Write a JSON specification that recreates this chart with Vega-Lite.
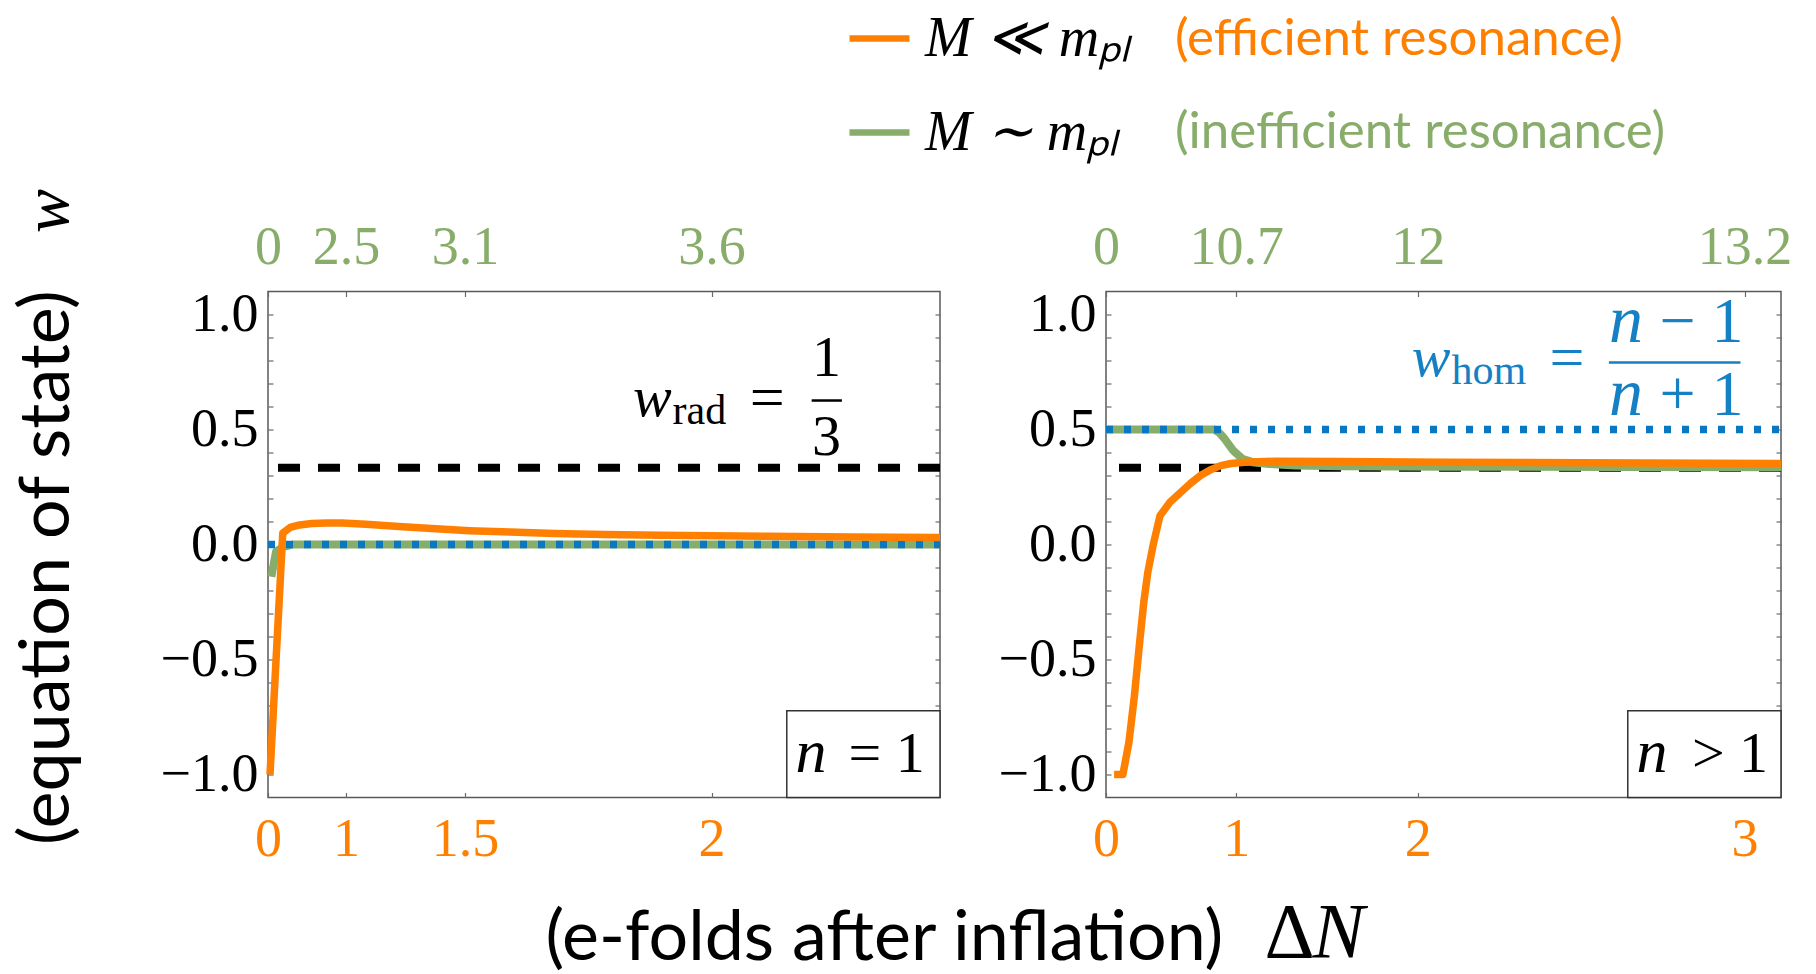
{
"$schema": "https://vega.github.io/schema/vega-lite/v6.json",
"padding": {"left": 11, "top": 4.5, "right": 10, "bottom": 0},
"bounds": "flush",
"spacing": 166,
"config": {
  "view": {"stroke": "#5a5a5a", "strokeWidth": 1.5},
  "axis": {"domain": false, "grid": false, "ticks": true, "tickSize": -5, "tickColor": "#6a6a6a", "tickWidth": 1.2, "labelFont": "Liberation Serif", "labelFontSize": 54, "labelColor": "black", "labelFlush": false, "labelOverlap": false},
  "legend": {"labelLimit": 0, "padding": 0}
},
"datasets": {
  "left": [
    {"model": "M ≪ mₚₗ", "resonance": "(efficient resonance)", "u": 0.3, "w": -1.0},
    {"model": "M ≪ mₚₗ", "resonance": "(efficient resonance)", "u": 1.2, "w": -0.5},
    {"model": "M ≪ mₚₗ", "resonance": "(efficient resonance)", "u": 2.2, "w": 0.05},
    {"model": "M ≪ mₚₗ", "resonance": "(efficient resonance)", "u": 3.3, "w": 0.074},
    {"model": "M ≪ mₚₗ", "resonance": "(efficient resonance)", "u": 4.7, "w": 0.085},
    {"model": "M ≪ mₚₗ", "resonance": "(efficient resonance)", "u": 6.5, "w": 0.091},
    {"model": "M ≪ mₚₗ", "resonance": "(efficient resonance)", "u": 8.7, "w": 0.094},
    {"model": "M ≪ mₚₗ", "resonance": "(efficient resonance)", "u": 11.0, "w": 0.093},
    {"model": "M ≪ mₚₗ", "resonance": "(efficient resonance)", "u": 14.6, "w": 0.088},
    {"model": "M ≪ mₚₗ", "resonance": "(efficient resonance)", "u": 20.0, "w": 0.077},
    {"model": "M ≪ mₚₗ", "resonance": "(efficient resonance)", "u": 25.0, "w": 0.068},
    {"model": "M ≪ mₚₗ", "resonance": "(efficient resonance)", "u": 30.0, "w": 0.06},
    {"model": "M ≪ mₚₗ", "resonance": "(efficient resonance)", "u": 36.0, "w": 0.054},
    {"model": "M ≪ mₚₗ", "resonance": "(efficient resonance)", "u": 42.7, "w": 0.048},
    {"model": "M ≪ mₚₗ", "resonance": "(efficient resonance)", "u": 50.0, "w": 0.044},
    {"model": "M ≪ mₚₗ", "resonance": "(efficient resonance)", "u": 58.4, "w": 0.04},
    {"model": "M ≪ mₚₗ", "resonance": "(efficient resonance)", "u": 66.0, "w": 0.038},
    {"model": "M ≪ mₚₗ", "resonance": "(efficient resonance)", "u": 74.2, "w": 0.036},
    {"model": "M ≪ mₚₗ", "resonance": "(efficient resonance)", "u": 87.0, "w": 0.033},
    {"model": "M ≪ mₚₗ", "resonance": "(efficient resonance)", "u": 100.0, "w": 0.03},
    {"model": "M ∼ mₚₗ", "resonance": "(inefficient resonance)", "u": 0.5, "w": -0.14},
    {"model": "M ∼ mₚₗ", "resonance": "(inefficient resonance)", "u": 1.2, "w": -0.03},
    {"model": "M ∼ mₚₗ", "resonance": "(inefficient resonance)", "u": 2.2, "w": -0.012},
    {"model": "M ∼ mₚₗ", "resonance": "(inefficient resonance)", "u": 3.7, "w": 0.0},
    {"model": "M ∼ mₚₗ", "resonance": "(inefficient resonance)", "u": 100.0, "w": 0.0}
  ],
  "right": [
    {"model": "M ≪ mₚₗ", "resonance": "(efficient resonance)", "u": 1.2, "w": -1.0},
    {"model": "M ≪ mₚₗ", "resonance": "(efficient resonance)", "u": 2.5, "w": -1.0},
    {"model": "M ≪ mₚₗ", "resonance": "(efficient resonance)", "u": 3.4, "w": -0.86},
    {"model": "M ≪ mₚₗ", "resonance": "(efficient resonance)", "u": 4.2, "w": -0.66},
    {"model": "M ≪ mₚₗ", "resonance": "(efficient resonance)", "u": 5.0, "w": -0.42},
    {"model": "M ≪ mₚₗ", "resonance": "(efficient resonance)", "u": 5.6, "w": -0.25},
    {"model": "M ≪ mₚₗ", "resonance": "(efficient resonance)", "u": 6.2, "w": -0.12},
    {"model": "M ≪ mₚₗ", "resonance": "(efficient resonance)", "u": 7.0, "w": 0.0},
    {"model": "M ≪ mₚₗ", "resonance": "(efficient resonance)", "u": 8.0, "w": 0.125},
    {"model": "M ≪ mₚₗ", "resonance": "(efficient resonance)", "u": 9.5, "w": 0.185},
    {"model": "M ≪ mₚₗ", "resonance": "(efficient resonance)", "u": 11.0, "w": 0.225},
    {"model": "M ≪ mₚₗ", "resonance": "(efficient resonance)", "u": 12.5, "w": 0.265},
    {"model": "M ≪ mₚₗ", "resonance": "(efficient resonance)", "u": 14.0, "w": 0.3},
    {"model": "M ≪ mₚₗ", "resonance": "(efficient resonance)", "u": 15.5, "w": 0.325},
    {"model": "M ≪ mₚₗ", "resonance": "(efficient resonance)", "u": 17.0, "w": 0.343},
    {"model": "M ≪ mₚₗ", "resonance": "(efficient resonance)", "u": 18.5, "w": 0.352},
    {"model": "M ≪ mₚₗ", "resonance": "(efficient resonance)", "u": 20.5, "w": 0.358},
    {"model": "M ≪ mₚₗ", "resonance": "(efficient resonance)", "u": 25.0, "w": 0.362},
    {"model": "M ≪ mₚₗ", "resonance": "(efficient resonance)", "u": 35.0, "w": 0.361},
    {"model": "M ≪ mₚₗ", "resonance": "(efficient resonance)", "u": 50.0, "w": 0.358},
    {"model": "M ≪ mₚₗ", "resonance": "(efficient resonance)", "u": 70.0, "w": 0.355},
    {"model": "M ≪ mₚₗ", "resonance": "(efficient resonance)", "u": 100.0, "w": 0.352},
    {"model": "M ∼ mₚₗ", "resonance": "(inefficient resonance)", "u": 0.0, "w": 0.5},
    {"model": "M ∼ mₚₗ", "resonance": "(inefficient resonance)", "u": 16.0, "w": 0.5},
    {"model": "M ∼ mₚₗ", "resonance": "(inefficient resonance)", "u": 16.8, "w": 0.485},
    {"model": "M ∼ mₚₗ", "resonance": "(inefficient resonance)", "u": 17.5, "w": 0.462},
    {"model": "M ∼ mₚₗ", "resonance": "(inefficient resonance)", "u": 18.8, "w": 0.41},
    {"model": "M ∼ mₚₗ", "resonance": "(inefficient resonance)", "u": 20.2, "w": 0.373},
    {"model": "M ∼ mₚₗ", "resonance": "(inefficient resonance)", "u": 21.7, "w": 0.358},
    {"model": "M ∼ mₚₗ", "resonance": "(inefficient resonance)", "u": 24.2, "w": 0.35},
    {"model": "M ∼ mₚₗ", "resonance": "(inefficient resonance)", "u": 28.0, "w": 0.343},
    {"model": "M ∼ mₚₗ", "resonance": "(inefficient resonance)", "u": 35.0, "w": 0.34},
    {"model": "M ∼ mₚₗ", "resonance": "(inefficient resonance)", "u": 50.0, "w": 0.338},
    {"model": "M ∼ mₚₗ", "resonance": "(inefficient resonance)", "u": 75.0, "w": 0.337},
    {"model": "M ∼ mₚₗ", "resonance": "(inefficient resonance)", "u": 100.0, "w": 0.336}
  ]
},
"hconcat": [
  {
    "width": 672, "height": 506,
    "resolve": {"axis": {"x": "independent", "y": "independent"}},
    "layer": [
      {"data": {"values": [{}]}, "mark": {"type": "rule", "color": "black", "strokeWidth": 8, "strokeDash": [22, 18]},
       "encoding": {"y": {"datum": 0.3333, "type": "quantitative", "scale": {"domain": [-1.1, 1.1], "nice": false, "zero": false}, "axis": null}}},
      {"data": {"name": "left"}, "transform": [{"filter": "datum.resonance === '(inefficient resonance)'"}],
       "mark": {"type": "line", "strokeWidth": 8, "strokeCap": "butt", "strokeJoin": "round"},
       "encoding": {
         "x": {"field": "u", "type": "quantitative", "scale": {"domain": [0, 100], "nice": false, "zero": false}, "axis": null},
         "y": {"field": "w", "type": "quantitative", "scale": {"domain": [-1.1, 1.1], "nice": false, "zero": false}, "axis": null},
         "color": {"field": "model", "type": "nominal", "scale": {"domain": ["M ≪ mₚₗ", "M ∼ mₚₗ"], "range": ["#ff8000", "#88ad6b"]},
           "legend": {"orient": "none", "legendX": 578, "legendY": -286.5, "title": null, "symbolType": "stroke", "symbolSize": 3600, "symbolStrokeWidth": 6.5, "labelFont": "Liberation Serif", "labelFontStyle": "italic", "labelFontSize": 56, "labelColor": "black", "labelOffset": 12, "rowPadding": 32, "padding": 0}},
         "opacity": {"field": "resonance", "type": "nominal", "scale": {"domain": ["(efficient resonance)", "(inefficient resonance)"], "range": [1, 1]},
           "legend": {"orient": "none", "legendX": 856, "legendY": -277, "title": null, "symbolSize": 0, "symbolOpacity": 0, "symbolStrokeWidth": 0, "labelFont": "Lato", "labelFontSize": 51, "labelColor": {"expr": "datum.label === '(efficient resonance)' ? '#ff8000' : '#88ad6b'"}, "labelOffset": 0, "rowPadding": 41, "padding": 0}}
       }},
      {"data": {"values": [{}]}, "mark": {"type": "rule", "color": "#0a78c0", "strokeWidth": 7.5, "strokeDash": [7, 11]},
       "encoding": {
         "x": {"datum": 0, "type": "quantitative", "scale": {"domain": [0, 100], "nice": false, "zero": false},
           "axis": {"orient": "top", "values": [0, 11.6, 29.3, 66.0], "labelExpr": "datum.value < 5 ? '0' : datum.value < 20 ? '2.5' : datum.value < 40 ? '3.1' : '3.6'", "labelColor": "#88ad6b", "labelPadding": 22, "title": null}},
         "x2": {"datum": 100},
         "y": {"datum": 0, "type": "quantitative", "scale": {"domain": [-1.1, 1.1], "nice": false, "zero": false},
           "axis": {"orient": "right", "values": [-1, -0.9, -0.8, -0.7, -0.6, -0.5, -0.4, -0.3, -0.2, -0.1, 0, 0.1, 0.2, 0.3, 0.4, 0.5, 0.6, 0.7, 0.8, 0.9, 1], "labels": false,
             "title": "w", "titleFont": "Liberation Serif", "titleFontStyle": "italic", "titleFontWeight": "normal", "titleFontSize": 66, "titleColor": "black", "titleAngle": 270, "titleAlign": "left", "titleBaseline": "middle", "titleX": -893, "titleY": -59}}
       }},
      {"data": {"name": "left"}, "transform": [{"filter": "datum.resonance === '(efficient resonance)'"}],
       "mark": {"type": "line", "strokeWidth": 7.5, "strokeCap": "butt", "strokeJoin": "round"},
       "encoding": {
         "x": {"field": "u", "type": "quantitative", "scale": {"domain": [0, 100], "nice": false, "zero": false},
           "axis": {"orient": "bottom", "values": [0, 11.6, 29.3, 66.0], "labelExpr": "datum.value < 5 ? '0' : datum.value < 20 ? '1' : datum.value < 40 ? '1.5' : '2'", "labelColor": "#ff8000", "labelPadding": 20,
             "title": "(e-folds after inflation)", "titleFont": "Lato", "titleFontSize": 70, "titleFontWeight": "normal", "titleColor": "black", "titleX": 277, "titleY": 162, "titleAlign": "left", "titleBaseline": "alphabetic"}},
         "y": {"field": "w", "type": "quantitative", "scale": {"domain": [-1.1, 1.1], "nice": false, "zero": false},
           "axis": {"orient": "left", "values": [-1, -0.9, -0.8, -0.7, -0.6, -0.5, -0.4, -0.3, -0.2, -0.1, 0, 0.1, 0.2, 0.3, 0.4, 0.5, 0.6, 0.7, 0.8, 0.9, 1], "format": ".1f", "labelExpr": "abs(datum.value * 2 - round(datum.value * 2)) < 0.001 ? datum.label : ''", "labelPadding": 15,
             "title": "(equation of state)", "titleFont": "Lato", "titleFontSize": 70, "titleFontWeight": "normal", "titleColor": "black", "titleAngle": 270, "titleAlign": "left", "titleBaseline": "middle", "titleX": -221, "titleY": 553}},
         "color": {"field": "model", "type": "nominal", "scale": {"domain": ["M ≪ mₚₗ", "M ∼ mₚₗ"], "range": ["#ff8000", "#88ad6b"]},
           "legend": {"orient": "none", "legendX": 578, "legendY": -286.5, "title": null, "symbolType": "stroke", "symbolSize": 3600, "symbolStrokeWidth": 6.5, "labelFont": "Liberation Serif", "labelFontStyle": "italic", "labelFontSize": 56, "labelColor": "black", "labelOffset": 12, "rowPadding": 32, "padding": 0}},
         "opacity": {"field": "resonance", "type": "nominal", "scale": {"domain": ["(efficient resonance)", "(inefficient resonance)"], "range": [1, 1]},
           "legend": {"orient": "none", "legendX": 856, "legendY": -277, "title": null, "symbolSize": 0, "symbolOpacity": 0, "symbolStrokeWidth": 0, "labelFont": "Lato", "labelFontSize": 51, "labelColor": {"expr": "datum.label === '(efficient resonance)' ? '#ff8000' : '#88ad6b'"}, "labelOffset": 0, "rowPadding": 41, "padding": 0}}
       }},
      {"data": {"values": [{}]}, "mark": {"type": "text", "font": "Liberation Serif", "fontStyle": "italic", "fontSize": 58, "align": "left", "baseline": "alphabetic", "color": "black"},
       "encoding": {"x": {"datum": 54.3, "type": "quantitative", "axis": null}, "y": {"datum": 0.558, "type": "quantitative", "axis": null}, "text": {"value": "w"}}},
      {"data": {"values": [{}]}, "mark": {"type": "text", "font": "Liberation Serif", "fontSize": 42, "align": "left", "baseline": "alphabetic", "color": "black"},
       "encoding": {"x": {"datum": 60.2, "type": "quantitative", "axis": null}, "y": {"datum": 0.522, "type": "quantitative", "axis": null}, "text": {"value": "rad"}}},
      {"data": {"values": [{}]}, "mark": {"type": "text", "font": "Liberation Serif", "fontSize": 62, "align": "center", "baseline": "alphabetic", "color": "black"},
       "encoding": {"x": {"datum": 74.3, "type": "quantitative", "axis": null}, "y": {"datum": 0.55, "type": "quantitative", "axis": null}, "text": {"value": "="}}},
      {"data": {"values": [{}]}, "mark": {"type": "text", "font": "Liberation Serif", "fontSize": 58, "align": "center", "baseline": "alphabetic", "color": "black"},
       "encoding": {"x": {"datum": 83.1, "type": "quantitative", "axis": null}, "y": {"datum": 0.732, "type": "quantitative", "axis": null}, "text": {"value": "1"}}},
      {"data": {"values": [{}]}, "mark": {"type": "rule", "color": "black", "strokeWidth": 2.5},
       "encoding": {"x": {"datum": 80.9, "type": "quantitative", "axis": null}, "x2": {"datum": 85.4}, "y": {"datum": 0.626, "type": "quantitative", "axis": null}}},
      {"data": {"values": [{}]}, "mark": {"type": "text", "font": "Liberation Serif", "fontSize": 58, "align": "center", "baseline": "alphabetic", "color": "black"},
       "encoding": {"x": {"datum": 83.1, "type": "quantitative", "axis": null}, "y": {"datum": 0.391, "type": "quantitative", "axis": null}, "text": {"value": "3"}}},
      {"data": {"values": [{}]}, "mark": {"type": "rect", "fill": "white", "stroke": "#333333", "strokeWidth": 1.5},
       "encoding": {"x": {"datum": 77.2, "type": "quantitative", "axis": null}, "x2": {"datum": 100}, "y": {"datum": -0.723, "type": "quantitative", "axis": null}, "y2": {"datum": -1.1}}},
      {"data": {"values": [{}]}, "mark": {"type": "text", "font": "Liberation Serif", "fontStyle": "italic", "fontSize": 62, "align": "left", "baseline": "alphabetic", "color": "black"},
       "encoding": {"x": {"datum": 78.5, "type": "quantitative", "axis": null}, "y": {"datum": -0.991, "type": "quantitative", "axis": null}, "text": {"value": "n"}}},
      {"data": {"values": [{}]}, "mark": {"type": "text", "font": "Liberation Serif", "fontSize": 58, "align": "left", "baseline": "alphabetic", "color": "black"},
       "encoding": {"x": {"datum": 86.4, "type": "quantitative", "axis": null}, "y": {"datum": -0.991, "type": "quantitative", "axis": null}, "text": {"value": "= 1"}}}
    ]
  },
  {
    "width": 675, "height": 506,
    "resolve": {"axis": {"x": "independent", "y": "independent"}},
    "layer": [
      {"data": {"values": [{}]}, "mark": {"type": "rule", "color": "black", "strokeWidth": 8, "strokeDash": [22, 18]},
       "encoding": {"y": {"datum": 0.3333, "type": "quantitative", "scale": {"domain": [-1.1, 1.1], "nice": false, "zero": false}, "axis": null}}},
      {"data": {"name": "right"}, "transform": [{"filter": "datum.resonance === '(inefficient resonance)'"}],
       "mark": {"type": "line", "strokeWidth": 8, "strokeCap": "butt", "strokeJoin": "round"},
       "encoding": {
         "x": {"field": "u", "type": "quantitative", "scale": {"domain": [0, 100], "nice": false, "zero": false}, "axis": null},
         "y": {"field": "w", "type": "quantitative", "scale": {"domain": [-1.1, 1.1], "nice": false, "zero": false}, "axis": null},
         "color": {"field": "model", "type": "nominal", "scale": {"domain": ["M ≪ mₚₗ", "M ∼ mₚₗ"], "range": ["#ff8000", "#88ad6b"]},
           "legend": {"orient": "none", "legendX": 578, "legendY": -286.5, "title": null, "symbolType": "stroke", "symbolSize": 3600, "symbolStrokeWidth": 6.5, "labelFont": "Liberation Serif", "labelFontStyle": "italic", "labelFontSize": 56, "labelColor": "black", "labelOffset": 12, "rowPadding": 32, "padding": 0}},
         "opacity": {"field": "resonance", "type": "nominal", "scale": {"domain": ["(efficient resonance)", "(inefficient resonance)"], "range": [1, 1]},
           "legend": {"orient": "none", "legendX": 856, "legendY": -277, "title": null, "symbolSize": 0, "symbolOpacity": 0, "symbolStrokeWidth": 0, "labelFont": "Lato", "labelFontSize": 51, "labelColor": {"expr": "datum.label === '(efficient resonance)' ? '#ff8000' : '#88ad6b'"}, "labelOffset": 0, "rowPadding": 41, "padding": 0}}
       }},
      {"data": {"values": [{}]}, "mark": {"type": "rule", "color": "#0a78c0", "strokeWidth": 7.5, "strokeDash": [7, 11]},
       "encoding": {
         "x": {"datum": 0, "type": "quantitative", "scale": {"domain": [0, 100], "nice": false, "zero": false},
           "axis": {"orient": "top", "values": [0, 19.3, 46.2, 94.6], "labelExpr": "datum.value < 5 ? '0' : datum.value < 30 ? '10.7' : datum.value < 60 ? '12' : '13.2'", "labelColor": "#88ad6b", "labelPadding": 22,
             "title": "N", "titleFont": "Liberation Serif", "titleFontStyle": "italic", "titleFontWeight": "normal", "titleFontSize": 78, "titleColor": "black", "titleX": 206, "titleY": 665, "titleAlign": "left", "titleBaseline": "alphabetic"}},
         "x2": {"datum": 100},
         "y": {"datum": 0.5, "type": "quantitative", "scale": {"domain": [-1.1, 1.1], "nice": false, "zero": false},
           "axis": {"orient": "right", "values": [-1, -0.9, -0.8, -0.7, -0.6, -0.5, -0.4, -0.3, -0.2, -0.1, 0, 0.1, 0.2, 0.3, 0.4, 0.5, 0.6, 0.7, 0.8, 0.9, 1], "labels": false, "title": null}}
       }},
      {"data": {"name": "right"}, "transform": [{"filter": "datum.resonance === '(efficient resonance)'"}],
       "mark": {"type": "line", "strokeWidth": 7.5, "strokeCap": "butt", "strokeJoin": "round"},
       "encoding": {
         "x": {"field": "u", "type": "quantitative", "scale": {"domain": [0, 100], "nice": false, "zero": false},
           "axis": {"orient": "bottom", "values": [0, 19.3, 46.2, 94.6], "labelExpr": "datum.value < 5 ? '0' : datum.value < 30 ? '1' : datum.value < 60 ? '2' : '3'", "labelColor": "#ff8000", "labelPadding": 20,
             "title": "Δ", "titleFont": "Liberation Serif", "titleFontWeight": "normal", "titleFontSize": 78, "titleColor": "black", "titleX": 158, "titleY": 159, "titleAlign": "left", "titleBaseline": "alphabetic"}},
         "y": {"field": "w", "type": "quantitative", "scale": {"domain": [-1.1, 1.1], "nice": false, "zero": false},
           "axis": {"orient": "left", "values": [-1, -0.9, -0.8, -0.7, -0.6, -0.5, -0.4, -0.3, -0.2, -0.1, 0, 0.1, 0.2, 0.3, 0.4, 0.5, 0.6, 0.7, 0.8, 0.9, 1], "format": ".1f", "labelExpr": "abs(datum.value * 2 - round(datum.value * 2)) < 0.001 ? datum.label : ''", "labelPadding": 15, "title": null}},
         "color": {"field": "model", "type": "nominal", "scale": {"domain": ["M ≪ mₚₗ", "M ∼ mₚₗ"], "range": ["#ff8000", "#88ad6b"]},
           "legend": {"orient": "none", "legendX": 578, "legendY": -286.5, "title": null, "symbolType": "stroke", "symbolSize": 3600, "symbolStrokeWidth": 6.5, "labelFont": "Liberation Serif", "labelFontStyle": "italic", "labelFontSize": 56, "labelColor": "black", "labelOffset": 12, "rowPadding": 32, "padding": 0}},
         "opacity": {"field": "resonance", "type": "nominal", "scale": {"domain": ["(efficient resonance)", "(inefficient resonance)"], "range": [1, 1]},
           "legend": {"orient": "none", "legendX": 856, "legendY": -277, "title": null, "symbolSize": 0, "symbolOpacity": 0, "symbolStrokeWidth": 0, "labelFont": "Lato", "labelFontSize": 51, "labelColor": {"expr": "datum.label === '(efficient resonance)' ? '#ff8000' : '#88ad6b'"}, "labelOffset": 0, "rowPadding": 41, "padding": 0}}
       }},
      {"data": {"values": [{}]}, "mark": {"type": "text", "font": "Liberation Serif", "fontStyle": "italic", "fontSize": 58, "align": "left", "baseline": "alphabetic", "color": "#1580c3"},
       "encoding": {"x": {"datum": 45.3, "type": "quantitative", "axis": null}, "y": {"datum": 0.733, "type": "quantitative", "axis": null}, "text": {"value": "w"}}},
      {"data": {"values": [{}]}, "mark": {"type": "text", "font": "Liberation Serif", "fontSize": 42, "align": "left", "baseline": "alphabetic", "color": "#1580c3"},
       "encoding": {"x": {"datum": 51.2, "type": "quantitative", "axis": null}, "y": {"datum": 0.697, "type": "quantitative", "axis": null}, "text": {"value": "hom"}}},
      {"data": {"values": [{}]}, "mark": {"type": "text", "font": "Liberation Serif", "fontSize": 62, "align": "center", "baseline": "alphabetic", "color": "#1580c3"},
       "encoding": {"x": {"datum": 68.3, "type": "quantitative", "axis": null}, "y": {"datum": 0.725, "type": "quantitative", "axis": null}, "text": {"value": "="}}},
      {"data": {"values": [{}]}, "mark": {"type": "rule", "color": "#1580c3", "strokeWidth": 2.5},
       "encoding": {"x": {"datum": 74.5, "type": "quantitative", "axis": null}, "x2": {"datum": 94.0}, "y": {"datum": 0.791, "type": "quantitative", "axis": null}}},
      {"data": {"values": [{}]}, "mark": {"type": "text", "font": "Liberation Serif", "fontStyle": "italic", "fontSize": 68, "align": "left", "baseline": "alphabetic", "color": "#1580c3"},
       "encoding": {"x": {"datum": 74.5, "type": "quantitative", "axis": null}, "y": {"datum": 0.88, "type": "quantitative", "axis": null}, "text": {"value": "n"}}},
      {"data": {"values": [{}]}, "mark": {"type": "text", "font": "Liberation Serif", "fontSize": 64, "align": "left", "baseline": "alphabetic", "color": "#1580c3"},
       "encoding": {"x": {"datum": 82.0, "type": "quantitative", "axis": null}, "y": {"datum": 0.88, "type": "quantitative", "axis": null}, "text": {"value": "− 1"}}},
      {"data": {"values": [{}]}, "mark": {"type": "text", "font": "Liberation Serif", "fontStyle": "italic", "fontSize": 68, "align": "left", "baseline": "alphabetic", "color": "#1580c3"},
       "encoding": {"x": {"datum": 74.5, "type": "quantitative", "axis": null}, "y": {"datum": 0.565, "type": "quantitative", "axis": null}, "text": {"value": "n"}}},
      {"data": {"values": [{}]}, "mark": {"type": "text", "font": "Liberation Serif", "fontSize": 64, "align": "left", "baseline": "alphabetic", "color": "#1580c3"},
       "encoding": {"x": {"datum": 82.0, "type": "quantitative", "axis": null}, "y": {"datum": 0.565, "type": "quantitative", "axis": null}, "text": {"value": "+ 1"}}},
      {"data": {"values": [{}]}, "mark": {"type": "rect", "fill": "white", "stroke": "#333333", "strokeWidth": 1.5},
       "encoding": {"x": {"datum": 77.3, "type": "quantitative", "axis": null}, "x2": {"datum": 100}, "y": {"datum": -0.723, "type": "quantitative", "axis": null}, "y2": {"datum": -1.1}}},
      {"data": {"values": [{}]}, "mark": {"type": "text", "font": "Liberation Serif", "fontStyle": "italic", "fontSize": 62, "align": "left", "baseline": "alphabetic", "color": "black"},
       "encoding": {"x": {"datum": 78.6, "type": "quantitative", "axis": null}, "y": {"datum": -0.991, "type": "quantitative", "axis": null}, "text": {"value": "n"}}},
      {"data": {"values": [{}]}, "mark": {"type": "text", "font": "Liberation Serif", "fontSize": 58, "align": "left", "baseline": "alphabetic", "color": "black"},
       "encoding": {"x": {"datum": 86.8, "type": "quantitative", "axis": null}, "y": {"datum": -0.991, "type": "quantitative", "axis": null}, "text": {"value": "> 1"}}}
    ]
  }
]
}
